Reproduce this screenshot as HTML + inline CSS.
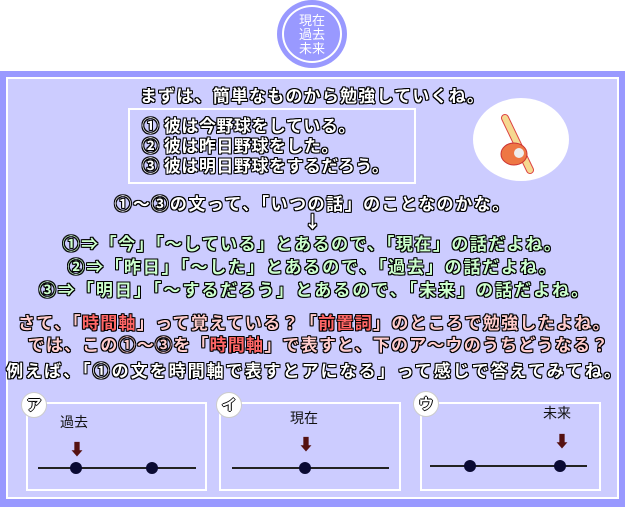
<!DOCTYPE html>
<html><head><meta charset="utf-8"><style>
body{margin:0;width:625px;height:507px;background:#fff;position:relative;overflow:hidden;font-family:"Noto Sans CJK JP","Liberation Sans",sans-serif;}
.ab{position:absolute}
.t{position:absolute;left:0;width:625px;text-align:center;font-weight:bold;font-size:17px;line-height:20px;color:#fff;
text-shadow:1px 0 #000,-1px 0 #000,0 1px #000,0 -1px #000,1px 1px #000,-1px -1px #000,1px -1px #000,-1px 1px #000;white-space:nowrap}
.g{color:#ccffcc}.p{color:#ffcccc}.r{color:#ff6666}
.panel{position:absolute;border:2px solid #fff;box-sizing:border-box}
.lab{position:absolute;width:26px;height:26px;border-radius:50%;background:#fff;border:1px solid #ccc;box-sizing:border-box;text-align:center;line-height:24px;font-weight:bold;font-size:15px;color:#fff;text-shadow:1px 0 #000,-1px 0 #000,0 1px #000,0 -1px #000}
.ln{position:absolute;height:2px;background:#222}
.dot{position:absolute;width:12px;height:12px;border-radius:50%;background:#0a0a33}
.arr{position:absolute;font-size:16px;color:#551111;font-weight:bold;line-height:16px}
.w{position:absolute;font-size:14px;color:#111;line-height:16px}
</style></head><body>
<div class="ab" style="left:277px;top:0;width:70px;height:68px;border-radius:50%;background:#9999ff"></div>
<div class="ab" style="left:282px;top:5px;width:60px;height:58px;border-radius:50%;border:2px solid #fff;box-sizing:border-box"></div>
<div class="ab" style="left:292px;top:13px;width:40px;text-align:center;color:#fff;font-size:13px;line-height:14px">現在<br>過去<br>未来</div>
<div class="ab" style="left:0;top:71px;width:625px;height:436px;background:#9999ff"></div>
<div class="ab" style="left:6px;top:77px;width:613px;height:422px;border:2px solid #fff;box-sizing:border-box;background:#ccccff"></div>
<div class="ab" style="left:128px;top:108px;width:288px;height:76px;border:2px solid #fff;box-sizing:border-box"></div>
<div class="ab" style="left:473px;top:98px;width:96px;height:83px;border-radius:50%;background:#fff"></div>
<svg class="ab" style="left:490px;top:112px" width="60" height="65"><line x1="15" y1="6" x2="40" y2="58" stroke="#dd4444" stroke-width="8" stroke-linecap="round"/><line x1="15" y1="6" x2="40" y2="58" stroke="#f5d890" stroke-width="6" stroke-linecap="round"/><ellipse cx="24" cy="42" rx="13" ry="11" fill="#ee7744" stroke="#cc3333"/><circle cx="29" cy="41" r="5" fill="#eee"/></svg>
<div class="t" style="top:85px;letter-spacing:1.2px">まずは、簡単なものから勉強していくね。</div>
<div class="t" style="top:115px;left:142px;text-align:left;letter-spacing:0.5px">① 彼は今野球をしている。</div>
<div class="t" style="top:135px;left:142px;text-align:left;letter-spacing:0.5px">② 彼は昨日野球をした。</div>
<div class="t" style="top:155px;left:142px;text-align:left;letter-spacing:0.5px">③ 彼は明日野球をするだろう。</div>
<div class="t" style="top:193px;letter-spacing:1.5px">①～③の文って、「いつの話」のことなのかな。</div>
<div class="t" style="top:211px">↓</div>
<div class="t g" style="top:233px;letter-spacing:1.5px">①⇒「今」「～している」とあるので、「現在」の話だよね。</div>
<div class="t g" style="top:256px;letter-spacing:1.8px">②⇒「昨日」「～した」とあるので、「過去」の話だよね。</div>
<div class="t g" style="top:279px;left:2px;letter-spacing:2px">③⇒「明日」「～するだろう」とあるので、「未来」の話だよね。</div>
<div class="t p" style="top:312px;left:2px;letter-spacing:1.3px">さて、「<span class="r">時間軸</span>」って覚えている？「<span class="r">前置詞</span>」のところで勉強したよね。</div>
<div class="t p" style="top:334px;left:6px;letter-spacing:1.2px">では、この①～③を「<span class="r">時間軸</span>」で表すと、下のア～ウのうちどうなる？</div>
<div class="t" style="top:360px;left:2px;letter-spacing:2px">例えば、「①の文を時間軸で表すとアになる」って感じで答えてみてね。</div>
<div class="panel" style="left:26px;top:402px;width:181px;height:89px"></div>
<div class="panel" style="left:219px;top:402px;width:182px;height:89px"></div>
<div class="panel" style="left:420px;top:402px;width:181px;height:89px"></div>
<div class="lab" style="left:21px;top:392px">ア</div>
<div class="lab" style="left:216px;top:392px">イ</div>
<div class="lab" style="left:413px;top:391px">ウ</div>
<div class="w" style="left:60px;top:414px">過去</div>
<div class="w" style="left:290px;top:410px">現在</div>
<div class="w" style="left:543px;top:405px">未来</div>
<div class="arr" style="left:69px;top:440px">⬇</div>
<div class="arr" style="left:298px;top:435px">⬇</div>
<div class="arr" style="left:554px;top:432px">⬇</div>
<div class="ln" style="left:38px;top:467px;width:158px"></div>
<div class="dot" style="left:70px;top:462px"></div><div class="dot" style="left:146px;top:462px"></div>
<div class="ln" style="left:232px;top:467px;width:157px"></div>
<div class="dot" style="left:299px;top:462px"></div>
<div class="ln" style="left:430px;top:465px;width:157px"></div>
<div class="dot" style="left:464px;top:460px"></div><div class="dot" style="left:554px;top:460px"></div>
</body></html>
